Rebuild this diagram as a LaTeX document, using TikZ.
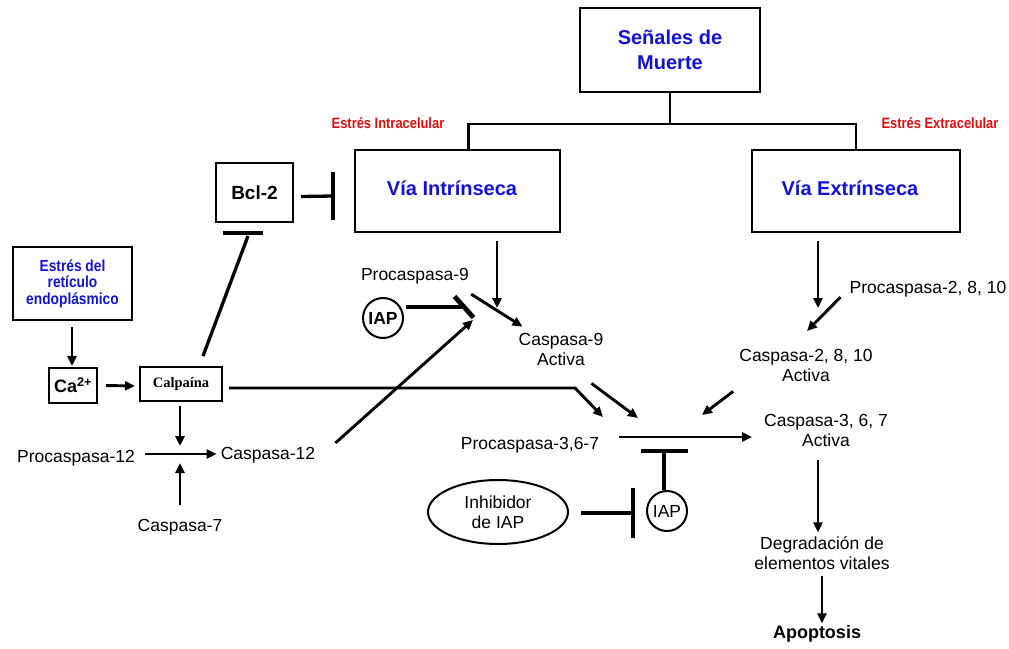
\documentclass[tikz,border=0pt]{standalone}
\usepackage{fontspec}
\setmainfont{Liberation Sans}
\newfontfamily\narrowfont[FakeStretch=0.86]{Liberation Sans}
\newfontfamily\serifface{Liberation Serif}
\usetikzlibrary{arrows.meta,shapes.geometric,calc}
\definecolor{titleblue}{RGB}{18,18,215}
\definecolor{stressred}{RGB}{228,12,12}

\begin{document}
\begin{tikzpicture}[x=1pt,y=-1pt,
  box/.style={draw,line width=2pt,inner sep=0pt},
  ttl/.style={font=\fontsize{20}{25}\selectfont\bfseries,text=titleblue,align=center},
  lbl/.style={font=\fontsize{17.5}{20}\selectfont,align=center,inner sep=0pt},
  stress/.style={font=\narrowfont\fontsize{15}{17}\selectfont\bfseries,text=stressred,inner sep=0pt},
  tree/.style={line width=2.6pt},
  act/.style={line width=2.9pt,-{Triangle[length=10pt,width=9pt]}},
  inh/.style={line width=3.3pt},
  bar/.style={line width=4.8pt},
  round/.style={draw,circle,line width=2pt,minimum size=40pt,inner sep=0pt,
    font=\fontsize{17.5}{20}\selectfont\bfseries}
]
\useasboundingbox (0,0) rectangle (1009,648);

% ---- boxes ----
\node[box,ttl,minimum width=180pt,minimum height=84pt] (senales) at (670,50)
  {Señales de\\Muerte};
\node[box,minimum width=205pt,minimum height=82pt] (intr) at (457.5,191) {};
\node[ttl] at (452,188) {Vía Intrínseca};
\node[box,minimum width=208pt,minimum height=82pt] (extr) at (856,191) {};
\node[ttl] at (850,188) {Vía Extrínseca};
\node[box,minimum width=77pt,minimum height=59pt,
  font=\fontsize{19}{22}\selectfont\bfseries] (bcl) at (254.5,192.5) {Bcl-2};
\node[box,minimum width=119pt,minimum height=73pt,text=titleblue,align=center,
  font=\narrowfont\fontsize{16}{16.5}\selectfont\bfseries] (er) at (72.5,283.5)
  {Estrés del\\retículo\\endoplásmico};
\node[box,minimum width=48pt,minimum height=35pt,
  font=\fontsize{18}{20}\selectfont\bfseries] (ca) at (73,385.5) {Ca\textsuperscript{2+}};
\node[box,minimum width=82pt,minimum height=34pt,
  font=\serifface\fontsize{14.5}{16}\selectfont\bfseries] (calp) at (181,384) {Calpaína};

% ---- stress labels ----
\node[stress] (sin) at (388,123) {Estrés Intracelular};
\node[stress] (sex) at (940,123) {Estrés Extracelular};

% ---- text labels ----
\node[lbl] (pc9) at (415,276) {Procaspasa-9};
\node[round] (iap1) at (383,318) {IAP};
\node[lbl] (c9) at (561,349) {Caspasa-9\\Activa};
\node[lbl] (pc2810) at (928,289) {Procaspasa-2, 8, 10};
\node[lbl] (c2810) at (806,365) {Caspasa-2, 8, 10\\Activa};
\node[lbl] (pc367) at (530,445) {Procaspasa-3,6-7};
\node[lbl] (c367) at (826,430) {Caspasa-3, 6, 7\\Activa};
\node[lbl] (degr) at (822,553) {Degradación de\\elementos vitales};
\node[lbl,font=\fontsize{18}{20}\selectfont\bfseries] (apop) at (817,634) {Apoptosis};
\node[lbl] (pc12) at (76,458) {Procaspasa-12};
\node[lbl] (c12) at (268,455) {Caspasa-12};
\node[lbl] (c7) at (180,527) {Caspasa-7};
\node[draw,ellipse,line width=2pt,minimum width=140pt,minimum height=64pt,
  inner sep=0pt,align=center,font=\fontsize{17.5}{20}\selectfont] (inhib) at (498,512)
  {Inhibidor\\de IAP};
\node[round,font=\fontsize{17.5}{20}\selectfont] (iap2) at (667,511) {IAP};

% ---- junction points ----
\coordinate (split) at ($(senales.south)+(0,31)$);
\coordinate (j9) at (497,308);
\coordinate (bar9) at (464,307);
\coordinate (j12) at (473,320);
\coordinate (j367a) at (603,417);
\coordinate (j367b) at (638,418);
\coordinate (j367c) at (702,415);
\coordinate (bar367) at (664,451);
\coordinate (bariap) at (633,513);
\coordinate (barbcl) at (333,196);
\coordinate (barcalp) at (243,233);
\coordinate (jext) at (818,308);
\coordinate (j2810) at (807,331);
\coordinate (jx12) at (180,446);
\coordinate (jy12) at (180,463);

% ---- tree from the death signals ----
\draw[tree] (senales.south) -- (split);
\draw[tree] ($(intr.north)+(11,0)$) |- (split) -| (extr.north);

% ---- intrinsic branch ----
\draw[act] ($(intr.south)+(39.5,8)$) -- (j9);
\draw[act] ($(pc9.south east)+(2,10)$) -- ($(c9.north west)+(4,-6)$);
\draw[inh] ($(iap1.east |- bar9)+(2,0)$) -- (bar9);
\draw[bar] ($(bar9)+(-9.5,-10.5)$) -- ($(bar9)+(9.5,10.5)$);
\draw[act] ($(c12.east)+(20,-12)$) -- (j12);

% ---- Bcl-2 ----
\draw[inh] ($(bcl.east)+(7,4)$) -- (barbcl);
\draw[bar] ($(barbcl)+(0,-24)$) -- ($(barbcl)+(0,24)$);
\draw[inh] ($(calp.north)+(22,-10)$) -- ($(barcalp)+(5,3)$);
\draw[bar] ($(barcalp)+(-20,0)$) -- ($(barcalp)+(20,0)$);

% ---- reticulum stress branch ----
\draw[act] ($(er.south)+(-0.5,6)$) -- ($(ca.north)+(-1,-1)$);
\draw[act] ($(ca.east)+(8,0)$) -- ($(calp.west)+(-4,2)$);
\draw[act] ($(calp.south)+(-1,4)$) -- (jx12);
\draw[act] ($(pc12.east)+(10,-4)$) -- ($(c12.west)+(-4,-1)$);
\draw[act] ($(c7.north)+(0,-14)$) -- (jy12);
\draw[act] ($(calp.east)+(6,4)$) -- (575,388) -- (j367a);

% ---- effector caspases ----
\draw[act] ($(c9.south east)+(-12,18)$) -- (j367b);
\draw[act] ($(c2810.south west)+(-6,10)$) -- (j367c);
\draw[act] ($(pc367.east)+(20,-8)$) -- (752,437);
\draw[inh] (iap2.north -| bar367) -- (bar367);
\draw[bar] ($(bar367)+(-23.5,0)$) -- ($(bar367)+(23.5,0)$);
\draw[inh] ($(inhib.east)+(12,1)$) -- (bariap);
\draw[bar] ($(bariap)+(0,-25)$) -- ($(bariap)+(0,25)$);

% ---- extrinsic branch ----
\draw[act] ($(extr.south)+(-38,8)$) -- (jext);
\draw[act] ($(pc2810.south west)+(-9,0)$) -- (j2810);
\draw[act] (818,460) -- ($(degr.north)+(-4,-4)$);
\draw[act] ($(degr.south)+(0,6)$) -- ($(apop.north)+(5,-2)$);
\end{tikzpicture}
\end{document}
